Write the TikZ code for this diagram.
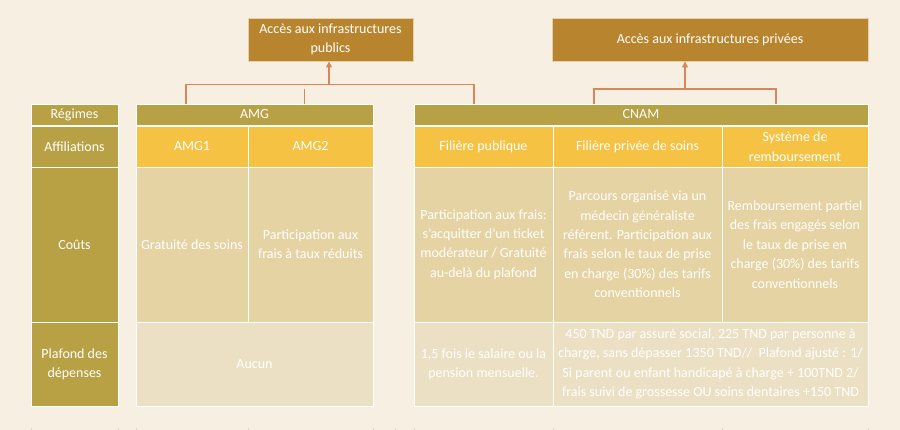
\documentclass[tikz,border=0pt]{standalone}
\usepackage{fontspec}
\setmainfont{Carlito}
\usetikzlibrary{arrows.meta}
\definecolor{bgc}{HTML}{F7F0E2}
\definecolor{topc}{HTML}{B8852E}
\definecolor{olivec}{HTML}{B8A044}
\definecolor{yelc}{HTML}{F5C243}
\definecolor{coutc}{HTML}{E6D3A3}
\definecolor{plafc}{HTML}{EBE0C3}
\definecolor{linkc}{HTML}{D8875A}
\definecolor{tickc}{HTML}{E2DACD}
\tikzset{
  cellbox/.style={draw=white, line width=0.9pt, inner sep=0pt, align=center,
    text=white, font=\fontsize{14}{19.4}\selectfont},
  topbox/.style={cellbox, fill=topc, draw=bgc!70!topc},
  olivebox/.style={cellbox, fill=olivec},
  yelbox/.style={cellbox, fill=yelc},
  coutbox/.style={cellbox, fill=coutc},
  plafbox/.style={cellbox, fill=plafc},
  sz/.style 2 args={minimum width=#1pt, minimum height=#2pt},
  link/.style={draw=linkc, line width=1.8pt},
  linkarrow/.style={link, -{Triangle[length=6pt,width=6pt]}},
  tickline/.style={draw=tickc, line width=0.8pt}
}
\begin{document}
\begin{tikzpicture}[x=1pt,y=-1pt]
\fill[bgc] (0,0) rectangle (900,430);
\useasboundingbox (0,0) rectangle (900,430);

% top boxes
\node[topbox, sz={165}{43}] (pub) at (330.5,39.5) {Accès aux infrastructures\\publics};
\node[topbox, sz={316}{43}] (priv) at (710,39.5) {Accès aux infrastructures privées};

% label column
\node[olivebox, sz={87}{21}] (reg) at (74.5,114.5) {Régimes};
\node[olivebox, sz={87}{41}] (aff) at (74.5,146.5) {Affiliations};
\node[olivebox, sz={87}{155}] (cout) at (74.5,244.5) {Coûts};
\node[olivebox, sz={87}{84}] (plaf) at (74.5,364) {Plafond des\\dépenses};

% AMG
\node[olivebox, sz={237}{21}] (amg) at (254.5,114.5) {AMG};
\node[yelbox, sz={112}{41}] (amg1) at (192,146.5) {AMG1};
\node[yelbox, sz={125}{41}] (amg2) at (310.5,146.5) {AMG2};
\node[coutbox, sz={112}{155}] (amgc1) at (192,244.5) {Gratuité des soins};
\node[coutbox, sz={125}{155}] (amgc2) at (310.5,244.5) {Participation aux\\frais à taux réduits};
\node[plafbox, sz={237}{84}] (aucun) at (254.5,364) {Aucun};

% CNAM
\node[olivebox, sz={454}{21}] (cnam) at (641,114.5) {CNAM};
\node[yelbox, sz={139}{41}] (fpub) at (483.5,146.5) {Filière publique};
\node[yelbox, sz={169}{41}] (fpriv) at (637.5,146.5) {Filière privée de soins};
\node[yelbox, sz={146}{41}] (sys) at (795,146.5) {Système de\\remboursement};
\node[coutbox, sz={139}{155}] (c1) at (483.5,244.5) {Participation aux frais:\\s’acquitter d'un ticket\\modérateur / Gratuité\\au-delà du plafond};
\node[coutbox, sz={169}{155}] (c2) at (637.5,244.5) {Parcours organisé via un\\médecin généraliste\\référent. Participation aux\\frais selon le taux de prise\\en charge (30\%) des tarifs\\conventionnels};
\node[coutbox, sz={146}{155}] (c3) at (795,244.5) {Remboursement partiel\\des frais engagés selon\\le taux de prise en\\charge (30\%) des tarifs\\conventionnels};
\node[plafbox, sz={139}{84}] (p1) at (483.5,364) {1,5 fois le salaire ou la\\pension mensuelle.};
\node[plafbox, sz={315}{84}] (p2) at (710.5,364) {450 TND par assuré social, 225 TND par personne à\\charge, sans dépasser 1350 TND//~ Plafond ajusté : 1/\\Si parent ou enfant handicapé à charge + 100TND 2/\\frais suivi de grossesse OU soins dentaires +150 TND};

% connectors
\coordinate (jl) at (329,84.5);
\coordinate (jr) at (685,89);
\coordinate (stub) at (304.5,89);
\draw[link] (amg.north west -| 186,0) |- (jl) -| (cnam.north west -| 474,0);
\draw[linkarrow] (jl) -- (pub.south -| jl);
\draw[link] (stub) -- (amg.north -| stub);
\draw[link] (cnam.north -| 594,0) |- (jr) -| (cnam.north -| 776,0);
\draw[linkarrow] (jr) -- (priv.south -| jr);

% faint ticks at the bottom edge
\foreach \t in {31,118,136,248,373,395,414,553,722,868}
  \draw[tickline] (\t,427.5) -- (\t,430);
\end{tikzpicture}
\end{document}
